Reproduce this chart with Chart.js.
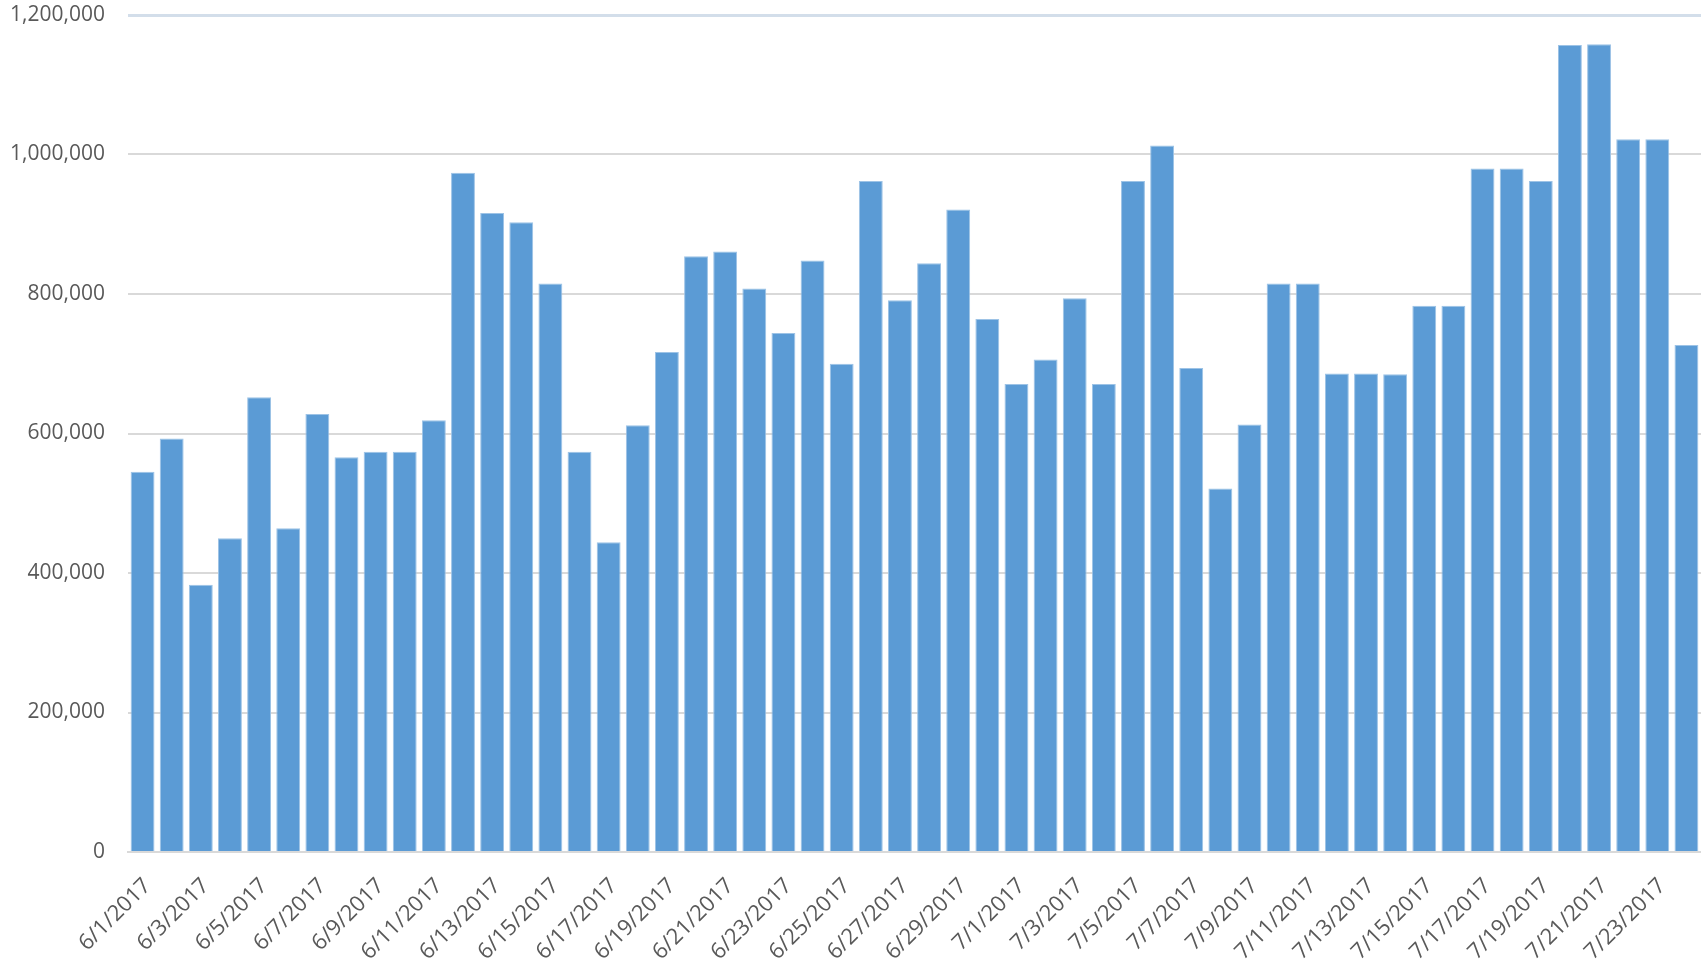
<!DOCTYPE html>
<html>
<head>
<meta charset="utf-8">
<script src="https://cdn.jsdelivr.net/npm/chart.js@4/dist/chart.umd.min.js"></script>
<style>
  html, body { margin: 0; padding: 0; background: #fff; }
  #wrap { width: 1701px; height: 959px; position: relative; }
</style>
</head>
<body>
<div id="wrap"><canvas id="chart"></canvas></div>
<script>
// ******************************************************** DATA

var days = [
  "6/1/2017","6/2/2017","6/3/2017","6/4/2017","6/5/2017","6/6/2017","6/7/2017","6/8/2017","6/9/2017","6/10/2017",
  "6/11/2017","6/12/2017","6/13/2017","6/14/2017","6/15/2017","6/16/2017","6/17/2017","6/18/2017","6/19/2017","6/20/2017",
  "6/21/2017","6/22/2017","6/23/2017","6/24/2017","6/25/2017","6/26/2017","6/27/2017","6/28/2017","6/29/2017","6/30/2017",
  "7/1/2017","7/2/2017","7/3/2017","7/4/2017","7/5/2017","7/6/2017","7/7/2017","7/8/2017","7/9/2017","7/10/2017",
  "7/11/2017","7/12/2017","7/13/2017","7/14/2017","7/15/2017","7/16/2017","7/17/2017","7/18/2017","7/19/2017","7/20/2017",
  "7/21/2017","7/22/2017","7/23/2017","7/24/2017"
];

var values = [
  545000, 593000, 383000, 450000, 652000, 464000, 628000, 566000, 574000, 574000,
  619000, 974000, 916000, 903000, 815000, 574000, 444000, 612000, 717000, 854000,
  861000, 808000, 744000, 848000, 700000, 962000, 791000, 844000, 921000, 764000,
  671000, 706000, 794000, 671000, 962000, 1013000, 694000, 521000, 613000, 815000,
  815000, 686000, 686000, 685000, 783000, 783000, 980000, 980000, 962000, 1157000,
  1158000, 1022000, 1022000, 727000
];

var yMax = 1200000;
var yStep = 200000;

// ******************************************************** CHART

var _canvas = document.getElementById("chart");
var _ctx = _canvas.getContext("2d");

Chart.defaults.font.family = "'Open Sans', 'Liberation Sans', sans-serif";
Chart.defaults.color = "#595959";

window.myBar = new Chart(_ctx, {
  type: 'bar',
  data: {
    labels: days,
    datasets: [{
      label: 'Value',
      data: values,
      backgroundColor: "#5B9BD5",
      borderColor: "#9DC3E6",
      borderWidth: 1,
      categoryPercentage: 1,
      barPercentage: 0.82
    }]
  },
  options: {
    responsive: true,
    maintainAspectRatio: false,
    animation: false,
    layout: { padding: { top: 15, right: 0, left: 0, bottom: 0 } },
    plugins: {
      legend: { display: false },
      tooltip: { enabled: false }
    },
    scales: {
      x: {
        grid: { display: false, drawTicks: false },
        border: { display: true, color: "#d9d9d9", width: 2 },
        afterFit: function (s) { s.height = 107; s.paddingLeft = 0; s.paddingRight = 0; },
        ticks: {
          autoSkip: false,
          maxRotation: 45,
          minRotation: 45,
          padding: 21,
          labelOffset: 5,
          font: { size: 22 },
          callback: function (v, i) { return i % 2 === 0 ? days[i] : ''; }
        }
      },
      y: {
        min: 0,
        max: yMax,
        afterFit: function (s) { s.width = 128; s.paddingTop = 0; s.paddingBottom = 0; },
        grid: {
          color: function (c) { return c.tick.value === yMax ? "#d3deea" : "#d9d9d9"; },
          lineWidth: function (c) { return c.tick.value === yMax ? 3 : 2; },
          drawTicks: false
        },
        border: { display: false },
        ticks: {
          stepSize: yStep,
          padding: 23,
          font: { size: 21 },
          callback: function (v) { return v.toLocaleString('en-US'); }
        }
      }
    }
  }
});
</script>
</body>
</html>
